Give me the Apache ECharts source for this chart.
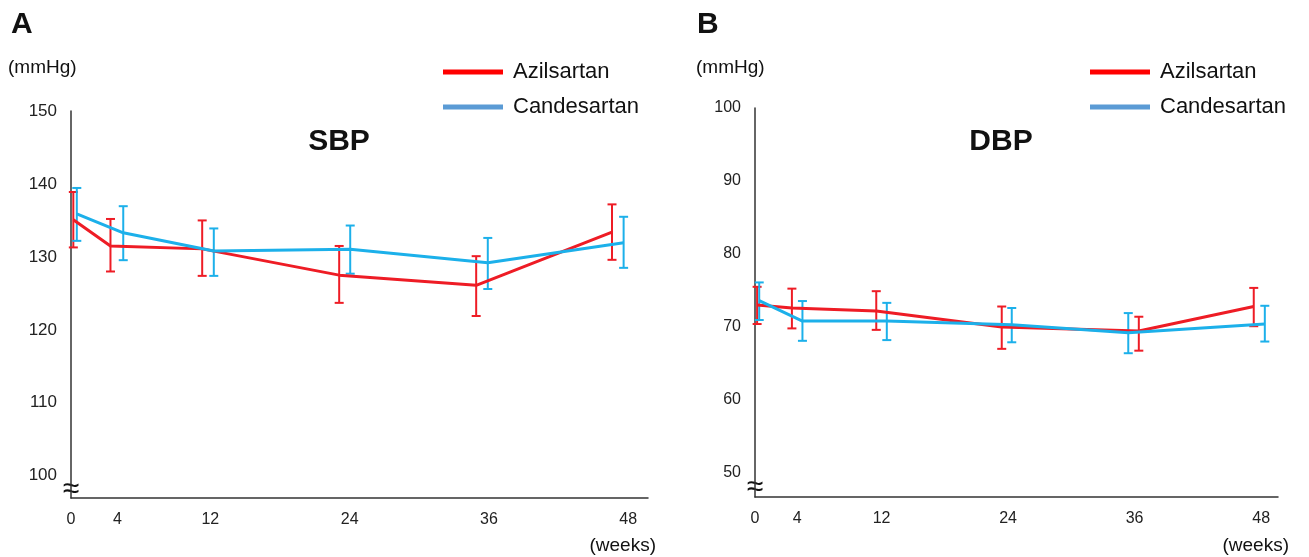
<!DOCTYPE html>
<html>
<head>
<meta charset="utf-8">
<script src="https://cdn.jsdelivr.net/npm/echarts@6/dist/echarts.min.js"></script>
<style>
  html, body { margin: 0; padding: 0; background: #fff; }
  #chart { width: 1309px; height: 557px; }
</style>
</head>
<body>
<div id="chart"></div>
<script>
// tick labels
var weeks = [0, 4, 12, 24, 36, 48];
var sbpTicks = [100, 110, 120, 130, 140, 150];
var dbpTicks = [50, 60, 70, 80, 90, 100];

// A: SBP (points are drawn slightly offset from the week ticks, as in the figure)
var sbpAziX = [0.2, 3.4, 11.3, 23.1, 34.9, 46.6];
var sbpAziMean = [135.1, 131.5, 131.1, 127.5, 126.1, 133.4];
var sbpAziLow = [131.3, 128.0, 127.4, 123.7, 121.9, 129.6];
var sbpAziHigh = [138.9, 135.2, 135.0, 131.5, 130.1, 137.2];

var sbpCanX = [0.5, 4.5, 12.3, 24.05, 35.9, 47.6];
var sbpCanMean = [135.9, 133.3, 130.8, 131.05, 129.2, 131.95];
var sbpCanLow = [132.2, 129.55, 127.4, 127.7, 125.6, 128.5];
var sbpCanHigh = [139.45, 136.95, 133.9, 134.3, 132.6, 135.5];

// B: DBP
var dbpAziX = [0.2, 3.5, 11.5, 23.4, 36.4, 47.3];
var dbpAziMean = [73.0, 72.6, 72.2, 70.0, 69.45, 72.8];
var dbpAziLow = [70.4, 69.8, 69.6, 67.0, 66.75, 70.1];
var dbpAziHigh = [75.5, 75.25, 74.9, 72.8, 71.4, 75.35];

var dbpCanX = [0.4, 4.5, 12.5, 24.35, 35.4, 48.35];
var dbpCanMean = [73.6, 70.8, 70.8, 70.3, 69.2, 70.4];
var dbpCanLow = [70.95, 68.1, 68.2, 67.9, 66.4, 68.0];
var dbpCanHigh = [76.1, 73.55, 73.3, 72.6, 71.9, 72.9];

var RED = '#ee1c25';
var BLUE = '#1cb0ea';
var FONT = 'Liberation Sans, Arial, Helvetica, sans-serif';

function zip(a, b) {
  return a.map(function (v, i) { return [v, b[i]]; });
}
function zip3(a, b, c) {
  return a.map(function (v, i) { return [v, b[i], c[i]]; });
}

function errorBars(name, idx, color, data) {
  return {
    name: name,
    type: 'custom',
    xAxisIndex: idx,
    yAxisIndex: idx,
    encode: { x: 0, y: [1, 2] },
    data: data,
    z: 3,
    renderItem: function (params, api) {
      var lo = api.coord([api.value(0), api.value(1)]);
      var hi = api.coord([api.value(0), api.value(2)]);
      var w = 4.5;
      var st = { stroke: color, lineWidth: 2 };
      return {
        type: 'group',
        children: [
          { type: 'line', shape: { x1: lo[0], y1: lo[1], x2: hi[0], y2: hi[1] }, style: st },
          { type: 'line', shape: { x1: lo[0] - w, y1: lo[1], x2: lo[0] + w, y2: lo[1] }, style: st },
          { type: 'line', shape: { x1: hi[0] - w, y1: hi[1], x2: hi[0] + w, y2: hi[1] }, style: st }
        ]
      };
    }
  };
}

function meanLine(name, idx, color, data) {
  return {
    name: name,
    type: 'line',
    xAxisIndex: idx,
    yAxisIndex: idx,
    data: data,
    symbol: 'none',
    color: color,
    lineStyle: { color: color, width: 3 },
    z: 4
  };
}

function xAxis(idx, max, fs) {
  return {
    type: 'value',
    gridIndex: idx,
    min: 0,
    max: max,
    axisLine: { show: true, lineStyle: { color: '#333', width: 1.5 } },
    axisTick: { show: false },
    splitLine: { show: false },
    axisLabel: {
      customValues: weeks,
      color: '#222',
      fontSize: fs,
      fontFamily: FONT,
      margin: 14
    }
  };
}

function yAxis(idx, min, max, ticks, fs) {
  return {
    type: 'value',
    gridIndex: idx,
    min: min,
    max: max,
    axisLine: { show: true, lineStyle: { color: '#333', width: 1.5 } },
    axisTick: { show: false },
    splitLine: { show: false },
    axisLabel: {
      customValues: ticks,
      color: '#222',
      fontSize: fs,
      fontFamily: FONT,
      margin: 14
    }
  };
}

function legend(left) {
  return {
    left: left,
    top: 61,
    padding: 0,
    orient: 'vertical',
    icon: 'rect',
    itemWidth: 60,
    itemHeight: 5,
    itemGap: 13,
    selectedMode: false,
    textStyle: { fontSize: 22, lineHeight: 22, color: '#111', fontFamily: FONT, padding: [0, 0, 0, 5] },
    data: [
      { name: 'Azilsartan', itemStyle: { color: '#ff0000' } },
      { name: 'Candesartan', itemStyle: { color: '#5b9bd5' } }
    ]
  };
}

function txt(x, y, s, size, bold, align) {
  return {
    type: 'text',
    x: x,
    y: y,
    style: {
      text: s,
      fontSize: size,
      fontWeight: bold ? 'bold' : 'normal',
      fontFamily: FONT,
      fill: '#111',
      align: align || 'left',
      verticalAlign: 'middle'
    }
  };
}

var chart = echarts.init(document.getElementById('chart'));
chart.setOption({
  animation: false,
  backgroundColor: '#fff',
  grid: [
    { left: 71, right: 661, top: 111, bottom: 59 },
    { left: 755, right: 31, top: 108, bottom: 60 }
  ],
  xAxis: [xAxis(0, 49.7, 16), xAxis(1, 49.6, 16)],
  yAxis: [yAxis(0, 96.95, 150, sbpTicks, 17), yAxis(1, 46.7, 100, dbpTicks, 16)],
  legend: [legend(443), legend(1090)],
  graphic: [
    txt(11, 25, 'A', 30, true),
    txt(697, 25, 'B', 30, true),
    txt(8, 68, '(mmHg)', 19, false),
    txt(696, 68, '(mmHg)', 19, false),
    txt(339, 142, 'SBP', 30, true, 'center'),
    txt(1001, 142, 'DBP', 30, true, 'center'),
    txt(656, 546, '(weeks)', 19, false, 'right'),
    txt(1289, 546, '(weeks)', 19, false, 'right'),
    txt(71, 490, '\u2248', 30, false, 'center'),
    txt(755, 488, '\u2248', 30, false, 'center')
  ],
  series: [
    errorBars('Azilsartan SD', 0, RED, zip3(sbpAziX, sbpAziLow, sbpAziHigh)),
    errorBars('Candesartan SD', 0, BLUE, zip3(sbpCanX, sbpCanLow, sbpCanHigh)),
    meanLine('Azilsartan', 0, RED, zip(sbpAziX, sbpAziMean)),
    meanLine('Candesartan', 0, BLUE, zip(sbpCanX, sbpCanMean)),
    errorBars('Azilsartan SD', 1, RED, zip3(dbpAziX, dbpAziLow, dbpAziHigh)),
    errorBars('Candesartan SD', 1, BLUE, zip3(dbpCanX, dbpCanLow, dbpCanHigh)),
    meanLine('Azilsartan', 1, RED, zip(dbpAziX, dbpAziMean)),
    meanLine('Candesartan', 1, BLUE, zip(dbpCanX, dbpCanMean))
  ]
});
</script>
</body>
</html>
